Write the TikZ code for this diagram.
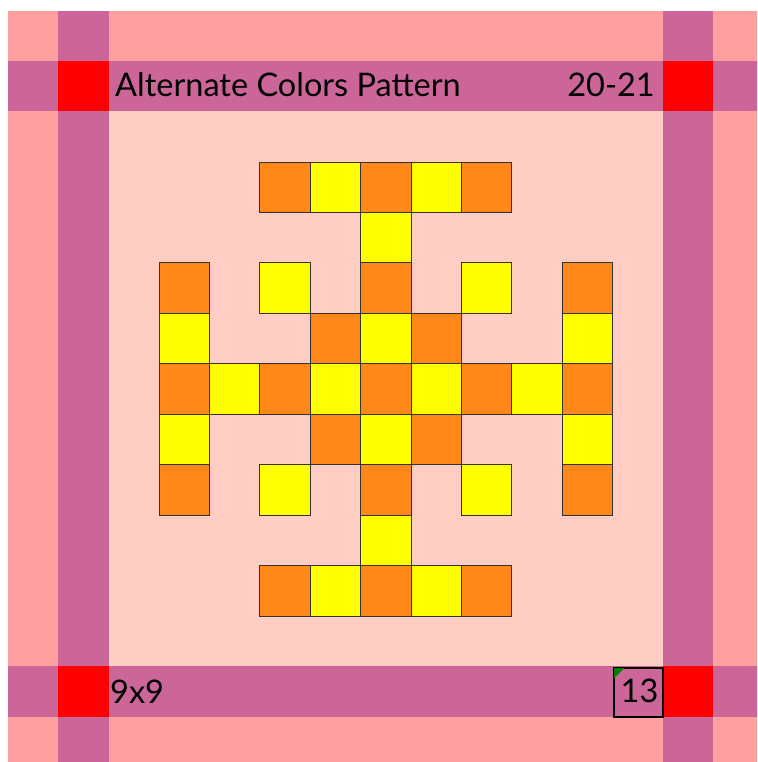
\documentclass[tikz,border=0pt]{standalone}
\usepackage{fontspec}
\setmainfont{Lato}
\definecolor{outerpink}{RGB}{255,160,160}
\definecolor{stripe}{RGB}{204,102,153}
\definecolor{corner}{RGB}{255,0,0}
\definecolor{innerbg}{RGB}{255,205,196}
\definecolor{cellorange}{RGB}{255,136,24}
\definecolor{cellyellow}{RGB}{255,255,0}
\definecolor{flag}{RGB}{0,128,0}
\begin{document}
\begin{tikzpicture}[x=1pt,y=-1pt,
  cellbox/.style={draw=black!80,line width=0.8pt},
  lbl/.style={inner sep=0pt,font=\fontsize{32.5}{32.5}\selectfont,text=black}]
\useasboundingbox (0,0) rectangle (757,762);
\clip (0,0) rectangle (757,762);
\fill[white] (0,0) rectangle (757,762);
\def\X#1{(7.8+50.4*(#1))}
\def\Y#1{(10.6+50.45*(#1))}
% outer background
\fill[outerpink] ({\X0},{\Y0}) rectangle ({\X{15}},{\Y{15}});
% stripes
\foreach \k in {1,13}{
  \fill[stripe] ({\X{\k}},{\Y0}) rectangle ({\X{\k+1}},{\Y{15}});
  \fill[stripe] ({\X0},{\Y{\k}}) rectangle ({\X{15}},{\Y{\k+1}});
}
\foreach \a in {1,13}{\foreach \b in {1,13}{
  \fill[corner] ({\X{\a}},{\Y{\b}}) rectangle ({\X{\a+1}},{\Y{\b+1}});
}}
% inner field
\fill[innerbg] ({\X2},{\Y2}) rectangle ({\X{13}},{\Y{13}});
% pattern cells: col/row/colour
\foreach \c/\r/\f in {
  2/0/cellorange,3/0/cellyellow,4/0/cellorange,5/0/cellyellow,6/0/cellorange,
  4/1/cellyellow,
  0/2/cellorange,2/2/cellyellow,4/2/cellorange,6/2/cellyellow,8/2/cellorange,
  0/3/cellyellow,3/3/cellorange,4/3/cellyellow,5/3/cellorange,8/3/cellyellow,
  0/4/cellorange,1/4/cellyellow,2/4/cellorange,3/4/cellyellow,4/4/cellorange,5/4/cellyellow,6/4/cellorange,7/4/cellyellow,8/4/cellorange,
  0/5/cellyellow,3/5/cellorange,4/5/cellyellow,5/5/cellorange,8/5/cellyellow,
  0/6/cellorange,2/6/cellyellow,4/6/cellorange,6/6/cellyellow,8/6/cellorange,
  4/7/cellyellow,
  2/8/cellorange,3/8/cellyellow,4/8/cellorange,5/8/cellyellow,6/8/cellorange}{
  \filldraw[cellbox,fill=\f] ({\X{\c+3}},{\Y{\r+3}}) rectangle ({\X{\c+4}},{\Y{\r+4}});
}
% number box
\node[draw=black,line width=1.6pt,minimum width=49pt,minimum height=49pt,inner sep=0pt,anchor=north west]
  (numbox) at ({\X{12}+0.8},{\Y{13}+0.8}) {};
\fill[flag] ([xshift=0.8pt,yshift=-0.8pt]numbox.north west) -- ++(10,0) -- ++(-10,10) -- cycle;
\node[lbl,anchor=base] (num) at (639.5,702.7) {13};
% texts
\node[lbl,anchor=base west] (title) at (115,97) {Alternate Colors Pattern};
\node[lbl,anchor=base east] (year) at (655,97) {20-21};
\node[lbl,anchor=base west] (size) at (110,703) {9x9};
\end{tikzpicture}
\end{document}
